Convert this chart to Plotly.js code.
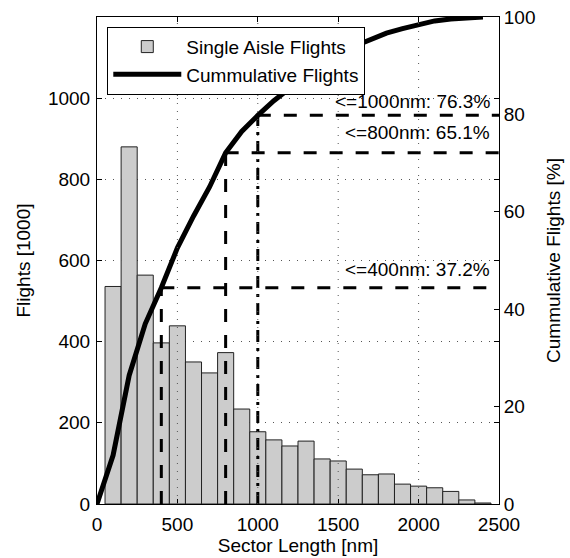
<!DOCTYPE html>
<html>
<head>
<meta charset="utf-8">
<script src="https://cdn.plot.ly/plotly-3.0.1.min.js"></script>
<style>
html, body { margin: 0; padding: 0; background: #ffffff; }
#chart { width: 570px; height: 558px; }
</style>
</head>
<body>
<div id="chart"></div>
<script>
// ---- data ----
const binCenters = [100, 200, 300, 400, 500, 600, 700, 800, 900, 1000, 1100, 1200,
                    1300, 1400, 1500, 1600, 1700, 1800, 1900, 2000, 2100, 2200, 2300, 2400];
const flights = [536, 880, 564, 397, 439, 350, 323, 373, 234, 178, 158, 143,
                 155, 111, 106, 86, 72, 74, 49, 44, 40, 31, 10, 2.5];
const cumX = [0, 100, 200, 300, 400, 500, 600, 700, 800, 900, 1000, 1100, 1200,
              1300, 1400, 1500, 1600, 1700, 1800, 1900, 2000, 2100, 2200, 2300, 2400];
const cumPct = [0, 10.0, 26.4, 37.0, 44.4, 52.6, 59.1, 65.1, 72.1, 76.5, 79.8, 82.8, 85.4,
                88.3, 90.4, 92.4, 94.0, 95.3, 96.7, 97.6, 98.4, 99.2, 99.6, 99.9, 100];
const thresholdNm = [400, 800, 1000];
const thresholdPct = [44.4, 72.1, 79.8];
const thresholdLabels = ['&lt;=400nm: 37.2%', '&lt;=800nm: 65.1%', '&lt;=1000nm: 76.3%'];
const xTicks = [0, 500, 1000, 1500, 2000, 2500];
const yTicks = [0, 200, 400, 600, 800, 1000];
const y2Ticks = [0, 20, 40, 60, 80, 100];

// ---- styling ----
const FONT = { family: 'Liberation Sans, Arial, Helvetica, sans-serif', size: 19, color: '#000000' };
const X_MAX = 2500;
const vStyles = ['13px,13px', '13px,13px', '12px,6px,3px,6px'];
const labelY = [48.1, 76.3, 82.7];

const traces = [];
traces.push({
  type: 'bar', name: 'Single Aisle Flights',
  x: binCenters, y: flights, width: 100,
  xaxis: 'x', yaxis: 'y',
  marker: { color: '#cccccc', line: { color: '#222222', width: 1 } },
  hoverinfo: 'x+y'
});

thresholdNm.forEach((t, i) => {
  traces.push({
    type: 'scatter', mode: 'lines', showlegend: false,
    x: [t, t], y: [0, thresholdPct[i]], xaxis: 'x', yaxis: 'y2',
    line: { color: '#000000', width: 3, dash: vStyles[i] }, hoverinfo: 'skip'
  });
  traces.push({
    type: 'scatter', mode: 'lines', showlegend: false,
    x: [t, X_MAX], y: [thresholdPct[i], thresholdPct[i]], xaxis: 'x', yaxis: 'y2',
    line: { color: '#000000', width: 3, dash: '13px,13px' }, hoverinfo: 'skip'
  });
});

traces.push({
  type: 'scatter', mode: 'lines', name: 'Cummulative Flights',
  x: cumX, y: cumPct, xaxis: 'x', yaxis: 'y2',
  line: { color: '#000000', width: 5 }
});

const gridShapes = xTicks.filter(v => v > 0 && v < X_MAX).map(v => ({
  type: 'line', xref: 'x', yref: 'paper', x0: v, x1: v, y0: 0, y1: 1,
  layer: 'above', line: { color: '#555555', width: 1, dash: '1px,7px' }
}));

const annotations = thresholdLabels.map((txt, i) => ({
  text: txt, xref: 'x', yref: 'y2', x: 2450, y: labelY[i],
  xanchor: 'right', yanchor: 'middle', showarrow: false, font: FONT, borderpad: 0
}));

const axisCommon = {
  ticks: 'inside', ticklen: 5, tickcolor: '#000000', tickwidth: 1,
  showline: true, linecolor: '#000000', linewidth: 1,
  zeroline: false, tickfont: FONT, automargin: false
};

const layout = {
  width: 570, height: 558,
  margin: { l: 97, r: 71, t: 17, b: 54, pad: 0 },
  paper_bgcolor: '#ffffff', plot_bgcolor: '#ffffff',
  font: FONT,
  showlegend: true,
  legend: {
    x: 0.0256, y: 0.98, xanchor: 'left', yanchor: 'top',
    bgcolor: '#ffffff', bordercolor: '#000000', borderwidth: 1,
    font: FONT, itemwidth: 68, traceorder: 'normal'
  },
  xaxis: Object.assign({}, axisCommon, {
    range: [0, X_MAX], tickvals: xTicks, mirror: 'ticks', showgrid: false,
    ticklabelstandoff: 3,
    title: { text: 'Sector Length [nm]', font: FONT, standoff: 2 }
  }),
  yaxis: Object.assign({}, axisCommon, {
    range: [0, 1200], tickvals: yTicks, mirror: 'ticks',
    showgrid: true, gridcolor: '#555555', gridwidth: 1, griddash: '1px,7px',
    ticklabelstandoff: 2,
    title: { text: 'Flights [1000]', font: FONT, standoff: 12 }
  }),
  yaxis2: Object.assign({}, axisCommon, {
    overlaying: 'y', side: 'right', range: [0, 100], tickvals: y2Ticks,
    showgrid: false,
    title: { text: 'Cummulative Flights [%]', font: FONT, standoff: 12 }
  }),
  shapes: gridShapes,
  annotations: annotations,
  bargap: 0
};

Plotly.newPlot('chart', traces, layout, { staticPlot: true, displayModeBar: false });
</script>
</body>
</html>
